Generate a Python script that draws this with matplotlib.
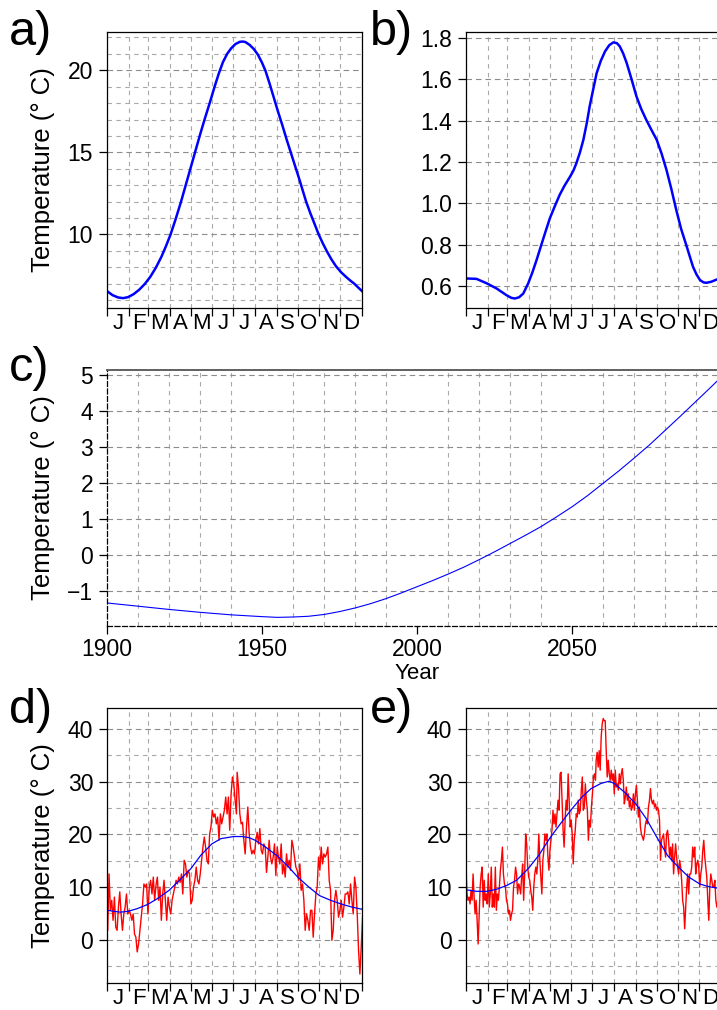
import numpy as np
import matplotlib
matplotlib.use("Agg")
import matplotlib.pyplot as plt
from matplotlib.ticker import FixedLocator, NullFormatter, FixedFormatter, FormatStrFormatter

plt.rcParams['font.family'] = ['Liberation Sans', 'DejaVu Sans']
plt.rcParams['axes.unicode_minus'] = True

# ---------------- data ----------------
month_starts = [0, 31, 59, 90, 120, 151, 181, 212, 243, 273, 304, 334, 365]
month_labels = ['J', 'F', 'M', 'A', 'M', 'J', 'J', 'A', 'S', 'O', 'N', 'D']

# a) mean seasonal cycle
a_days = [0, 8, 16, 23, 30, 38, 46, 54, 62, 70, 78, 85, 91, 98, 106, 113, 120, 126, 133,
          140, 147, 154, 160, 166, 172, 178, 184, 190, 194, 198, 204, 210, 216, 222, 227,
          233, 239, 245, 251, 257, 263, 269, 275, 280, 285, 291, 297, 303, 309, 315, 321,
          328, 335, 342, 348, 354, 360, 365]
a_temp = [6.55, 6.30, 6.16, 6.12, 6.18, 6.36, 6.63, 6.98, 7.42, 7.98, 8.65, 9.35, 10.0,
          10.9, 12.0, 13.05, 14.1, 15.0, 16.05, 17.05, 18.0, 19.0, 19.8, 20.5, 21.0, 21.35,
          21.6, 21.73, 21.75, 21.72, 21.55, 21.3, 20.95, 20.45, 19.95, 19.15, 18.3, 17.45,
          16.65, 15.8, 15.0, 14.2, 13.4, 12.7, 12.0, 11.3, 10.65, 10.0, 9.45, 8.95, 8.5,
          8.05, 7.7, 7.42, 7.2, 7.0, 6.75, 6.55]

# b) seasonal standard deviation
b_days = [0, 15, 30, 44, 58, 65, 70, 76, 82, 89, 95, 101, 107, 113, 120, 127, 134, 141,
          149, 154, 158, 163, 168, 173, 177, 182, 187, 193, 199, 205, 211, 216, 220, 225,
          230, 237, 244, 251, 258, 265, 273, 280, 287, 294, 301, 308, 316, 321, 325, 330,
          335, 340, 344, 351, 359, 365]
b_temp = [0.636, 0.634, 0.612, 0.587, 0.555, 0.542, 0.539, 0.545, 0.563, 0.612, 0.665,
          0.725, 0.79, 0.854, 0.927, 0.985, 1.04, 1.085, 1.129, 1.16, 1.194, 1.245, 1.307,
          1.39, 1.469, 1.55, 1.630, 1.69, 1.735, 1.765, 1.779, 1.775, 1.76, 1.725, 1.679,
          1.60, 1.517, 1.455, 1.404, 1.358, 1.307, 1.24, 1.161, 1.068, 0.967, 0.875, 0.790,
          0.735, 0.692, 0.655, 0.628, 0.617, 0.615, 0.62, 0.631, 0.64]

# c) long-term trend
c_years = [1900, 1910, 1920, 1930, 1940, 1950, 1955, 1960, 1965, 1970, 1975, 1980, 1985,
           1990, 1995, 2000, 2005, 2010, 2015, 2020, 2025, 2030, 2035, 2040, 2045, 2050,
           2055, 2060, 2065, 2070, 2075, 2080, 2085, 2090, 2095, 2100]
c_temp = [-1.33, -1.42, -1.51, -1.59, -1.66, -1.71, -1.73, -1.72, -1.70, -1.65, -1.57,
          -1.47, -1.35, -1.21, -1.05, -0.88, -0.71, -0.53, -0.34, -0.13, 0.09, 0.32, 0.55,
          0.79, 1.06, 1.34, 1.65, 1.99, 2.33, 2.69, 3.06, 3.46, 3.86, 4.27, 4.68, 5.10]

# d) one simulated year (daily) and its smooth seasonal curve
d_smooth_days = [0, 19, 30, 43, 58, 72, 89, 106, 120, 134, 150, 163, 181, 193, 203, 212,
                 227, 243, 258, 273, 289, 304, 320, 335, 351, 365]
d_smooth_temp = [5.6, 5.25, 5.4, 5.9, 6.7, 7.8, 9.4, 11.6, 13.5, 16.0, 18.2, 19.2, 19.6,
                 19.6, 19.4, 18.9, 17.6, 16.0, 14.1, 11.9, 10.0, 8.4, 7.5, 6.8, 6.2, 5.8]
d_daily_first = [1.8, 12.5, 5.6, 7.5, 3.7, 8.1, 2.4, 1.8, 6.2, 9.1,
                 4.9, 1.8, 4.9, 6.2, 8.7, 4.9, 5.6, 4.9, 3.7, 4.9,
                 1.1, 0.5, -2.3, -0.8, 1.8, 4.3, 6.8, 10.6, 10.0, 10.6,
                 4.9, 10.0, 11.3, 8.7, 11.9, 7.5, 10.3, 11.9, 7.5, 10.0,
                 3.7, 8.7, 11.3, 7.5, 3.7, 8.1, 6.2, 4.9, 7.5, 8.7,
                 10.0, 11.3, 10.6, 11.9, 10.9, 12.5, 8.7, 15.1, 14.4, 11.9,
                 13.2, 12.5, 6.8, 7.5, 10.0, 11.3, 13.8, 11.3, 10.6, 12.5,
                 15.1, 17.6, 19.5, 17.6, 15.1, 14.4, 20.1, 21.4, 24.6, 23.3,
                 23.9, 22.0, 23.3, 18.9, 23.9, 22.0, 23.3, 24.6, 27.1, 23.9,
                 27.1, 20.8, 27.7, 30.9, 29.6, 26.5, 23.9]
d_daily_second = [31.8, 29.0, 23.9, 22.0, 22.3, 18.9, 16.3, 21.4, 25.2, 20.1,
                  17.6, 16.3, 17.0, 16.3, 18.9, 20.4, 18.2, 21.1, 17.0, 16.3,
                  18.2, 17.6, 12.8, 15.7, 18.9, 15.7, 14.4, 15.7, 18.2, 12.2,
                  17.6, 15.7, 14.4, 18.2, 12.5, 14.4, 11.9, 16.3, 13.8, 15.1,
                  13.2, 18.9, 17.6, 15.7, 13.8, 13.2, 11.3, 14.4, 9.4, 10.6,
                  7.5, 1.8, 4.9, 3.7, 1.8, 5.6, 5.6, 0.5, 4.9, 8.7,
                  10.0, 15.7, 13.2, 17.6, 14.4, 16.3, 15.7, 16.3, 17.6, 11.3,
                  9.4, -0.1, 1.8, 7.5, 9.4, 7.5, 4.3, 5.6, 7.5, 4.3,
                  6.2, 8.7, 8.7, 9.1, 6.8, 10.6, 7.5, 4.9, 11.9, 10.0,
                  4.9, -2.0, -6.5, -1.4, 4.3]

# e) another simulated year (daily) and its smooth seasonal curve
e_smooth_days = [0, 15, 30, 44, 58, 72.5, 89, 104, 119.5, 135, 150, 166, 179, 193.5, 205,
                 212, 227, 243, 258, 273, 288.5, 304, 319, 334.6, 347, 360.5, 365]
e_smooth_temp = [9.5, 9.2, 9.2, 9.6, 10.3, 11.3, 13.5, 16.0, 19.2, 22.0, 24.6, 27.1, 28.7,
                 29.7, 30.1, 29.7, 28.0, 25.8, 23.0, 19.5, 16.0, 13.8, 11.9, 10.6, 10.1,
                 9.8, 9.7]
e_daily_first = [13.8, 8.7, 7.5, 8.1, 6.8, 9.4, 7.5, 12.5, 8.1, 4.9,
                 7.5, 3.7, -0.8, 4.9, 10.0, 12.5, 13.8, 6.2, 11.3, 7.5,
                 8.7, 6.8, 12.5, 6.2, 8.7, 13.8, 6.2, 8.7, 6.2, 13.8,
                 5.6, 8.7, 7.5, 10.0, 13.2, 15.1, 17.6, 12.5, 10.6, 10.0,
                 7.5, 6.8, 4.9, 5.6, 3.7, 4.9, 5.6, 10.0, 11.3, 13.8,
                 12.5, 8.7, 10.6, 10.0, 8.7, 11.9, 14.4, 7.5, 12.5, 20.1,
                 18.2, 13.8, 11.9, 11.3, 9.4, 8.1, 5.6, 10.0, 12.5, 13.8,
                 12.5, 15.1, 20.1, 15.1, 11.9, 8.7, 15.1, 17.0, 20.1, 18.9,
                 20.1, 15.7, 13.2, 17.0, 18.9, 20.8, 24.6, 22.0, 23.9, 21.4,
                 23.9, 26.5, 24.6, 31.5, 31.8, 26.5, 20.8, 17.6, 22.7, 26.5,
                 24.6, 31.5, 26.5, 21.4, 22.7, 20.1, 14.4, 18.9, 20.8, 23.9,
                 23.3, 26.5, 23.9, 24.6, 28.4, 30.9, 24.6, 25.2, 29.6, 26.5,
                 24.6, 18.9, 22.7, 21.4, 25.2, 27.7, 30.9, 31.5, 30.3]
e_daily_second = [34.1, 35.6, 32.8, 35.9, 32.2, 38.5, 41.0, 42.0, 41.6, 41.6,
                  35.9, 30.9, 34.1, 31.5, 30.3, 32.2, 30.3, 31.5, 27.7, 32.2,
                  29.0, 29.6, 28.4, 31.5, 29.6, 31.5, 32.5, 30.3, 25.8, 27.1,
                  29.0, 26.5, 27.7, 25.2, 26.5, 24.6, 25.2, 27.7, 24.6, 27.7,
                  29.3, 26.5, 23.3, 25.2, 21.4, 20.1, 19.5, 18.9, 20.1, 22.0,
                  22.7, 22.0, 25.2, 26.5, 28.7, 26.5, 25.8, 26.5, 25.2, 25.8,
                  24.6, 25.2, 24.6, 22.7, 15.1, 18.9, 19.5, 20.1, 17.6, 15.7,
                  20.1, 20.8, 18.9, 15.7, 17.6, 15.1, 18.2, 12.5, 15.7, 18.2,
                  15.7, 13.8, 12.5, 15.1, 13.8, 11.3, 7.5, 6.2, 2.1, 6.2,
                  10.0, 12.5, 8.7, 12.5, 12.5, 13.8, 17.6, 15.7, 17.6, 12.5,
                  14.4, 15.1, 13.8, 10.0, 12.5, 13.8, 17.0, 18.9, 15.7, 13.8,
                  11.9, 7.5, 3.7, 10.0, 12.5, 11.3, 10.0, 10.0, 11.3, 7.5,
                  6.2, 7.5]

# ---------------- layout helpers ----------------
W, H = 717, 1010
fig = plt.figure(figsize=(W / 100, H / 100), dpi=100)


def add_axes_px(left, top, right, bottom):
    return fig.add_axes([left / W, 1 - bottom / H, (right - left) / W, (bottom - top) / H])


GRID_MAJOR = dict(color='#8c8c8c', linewidth=0.8, linestyle=(0, (5, 3.5)))
GRID_MINOR = dict(color='#a8a8a8', linewidth=0.8, linestyle=(0, (4, 4)))
TICK_FS = 16.5
MONTH_FS = 16
LABEL_FS = 18.5
PANEL_FS = 35
TICK_LEN = 6


def style_spines(ax, color='black', lw=0.9):
    for s in ax.spines.values():
        s.set_color(color)
        s.set_linewidth(lw)


def month_axis(ax):
    ax.set_xlim(0, 365)
    mids = [(month_starts[i] + month_starts[i + 1]) / 2 for i in range(12)]
    ax.xaxis.set_major_locator(FixedLocator(month_starts))
    ax.xaxis.set_major_formatter(NullFormatter())
    ax.xaxis.set_minor_locator(FixedLocator(mids))
    ax.xaxis.set_minor_formatter(FixedFormatter(month_labels))
    ax.tick_params(axis='x', which='major', direction='out', length=TICK_LEN,
                   width=0.9, color='black')
    ax.tick_params(axis='x', which='minor', length=0, pad=3.5, labelsize=MONTH_FS)
    ax.grid(True, axis='x', which='major', **GRID_MINOR)


def y_axis(ax, major, minor, lim, fmt=None):
    ax.set_ylim(*lim)
    ax.yaxis.set_major_locator(FixedLocator(major))
    ax.yaxis.set_minor_locator(FixedLocator(minor))
    if fmt:
        ax.yaxis.set_major_formatter(FormatStrFormatter(fmt))
    ax.tick_params(axis='y', which='major', direction='out', length=TICK_LEN,
                   width=0.9, pad=4, labelsize=TICK_FS)
    ax.tick_params(axis='y', which='minor', length=0)
    ax.grid(True, axis='y', which='minor', **GRID_MINOR)
    ax.grid(True, axis='y', which='major', **GRID_MAJOR)


def ylabel(center_y):
    fig.text(43 / W, 1 - center_y / H, 'Temperature (° C)', rotation=90,
             ha='center', va='center', fontsize=LABEL_FS)


def panel_letter(x, baseline, s):
    fig.text(x / W, 1 - baseline / H, s, fontsize=PANEL_FS, ha='left', va='baseline')


# ---------------- a) ----------------
ax_a = add_axes_px(107, 32, 362, 308)
ax_a.set_axisbelow(True)
ax_a.plot(a_days, a_temp, color='#0000ff', lw=1.8, solid_joinstyle='round')
month_axis(ax_a)
y_axis(ax_a, [10, 15, 20], list(range(6, 23)), (5.52, 22.33))
style_spines(ax_a)
ylabel(170)
panel_letter(9, 45, 'a)')

# ---------------- b) ----------------
ax_b = add_axes_px(466, 32, 721, 308)
ax_b.set_axisbelow(True)
ax_b.plot(b_days, b_temp, color='#0000ff', lw=1.8, solid_joinstyle='round')
month_axis(ax_b)
y_axis(ax_b, [0.6, 0.8, 1.0, 1.2, 1.4, 1.6, 1.8], [], (0.493, 1.829), fmt='%.1f')
style_spines(ax_b)
panel_letter(370, 45, 'b)')

# ---------------- c) ----------------
ax_c = add_axes_px(107, 370, 727, 626)
ax_c.set_axisbelow(True)
ax_c.plot(c_years, c_temp, color='#0000ff', lw=0.8)
ax_c.set_xlim(1900, 2100)
ax_c.xaxis.set_major_locator(FixedLocator([1900, 1950, 2000, 2050]))
ax_c.xaxis.set_minor_locator(FixedLocator(list(range(1900, 2100, 10))))
ax_c.tick_params(axis='x', which='major', direction='out', length=TICK_LEN, width=0.9,
                 pad=2.5, labelsize=TICK_FS)
ax_c.tick_params(axis='x', which='minor', length=0)
ax_c.grid(True, axis='x', which='minor', **GRID_MINOR)
y_axis(ax_c, list(range(-1, 6)), [], (-1.97, 5.14))
for side in ('left', 'bottom'):
    ax_c.spines[side].set_linestyle((0, (4, 2)))
    ax_c.spines[side].set_color('black')
    ax_c.spines[side].set_linewidth(0.9)
ax_c.spines['top'].set_color('#606060')
ax_c.spines['top'].set_linewidth(1.4)
ax_c.spines['right'].set_visible(False)
fig.text((107 + 727) / 2 / W, 1 - 679 / H, 'Year', ha='center', va='baseline',
         fontsize=16)
ylabel(498)
panel_letter(9, 381, 'c)')

# ---------------- d) ----------------
d_days_first = np.linspace(1.0, 185.3, len(d_daily_first))
d_days_second = np.linspace(186.3, 365.8, len(d_daily_second))
ax_d = add_axes_px(107, 708, 362, 983)
ax_d.set_axisbelow(True)
ax_d.plot(np.concatenate([d_days_first, d_days_second]), d_daily_first + d_daily_second,
          color='#ff0000', lw=1.0)
ax_d.plot(d_smooth_days, d_smooth_temp, color='#0000ff', lw=0.9)
month_axis(ax_d)
y_axis(ax_d, [0, 10, 20, 30, 40], list(range(-5, 45, 5)), (-8.2, 44.0))
style_spines(ax_d)
ylabel(845.5)
panel_letter(9, 723, 'd)')

# ---------------- e) ----------------
e_days_first = np.linspace(0.0, 185.3, len(e_daily_first))
e_days_second = np.linspace(186.3, 360.5, len(e_daily_second))
ax_e = add_axes_px(466, 708, 721, 983)
ax_e.set_axisbelow(True)
ax_e.plot(np.concatenate([e_days_first, e_days_second]), e_daily_first + e_daily_second,
          color='#ff0000', lw=1.0)
ax_e.plot(e_smooth_days, e_smooth_temp, color='#0000ff', lw=0.9)
month_axis(ax_e)
y_axis(ax_e, [0, 10, 20, 30, 40], list(range(-5, 45, 5)), (-8.2, 44.0))
style_spines(ax_e)
panel_letter(370, 723, 'e)')

fig.savefig('out.png', dpi=100)
